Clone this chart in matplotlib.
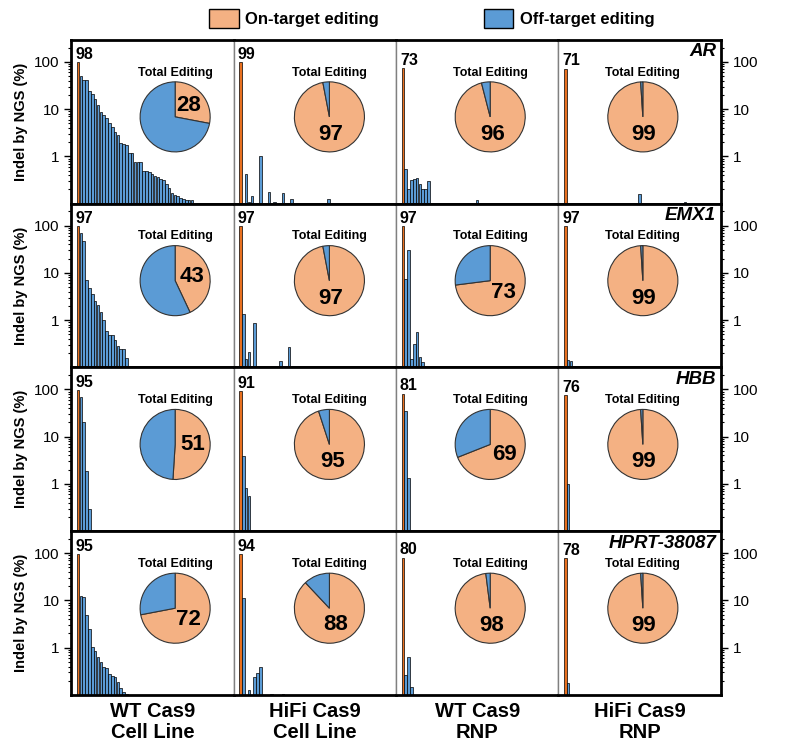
import numpy as np
import matplotlib
matplotlib.use('Agg')
from matplotlib import pyplot as plt
from matplotlib.patches import Patch
from matplotlib.ticker import FixedLocator, NullFormatter

plt.rcParams['font.family'] = ['Liberation Sans', 'DejaVu Sans']

genes = ['AR', 'EMX1', 'HBB', 'HPRT-38087']
conditions = ['WT Cas9\nCell Line', 'HiFi Cas9\nCell Line', 'WT Cas9\nRNP', 'HiFi Cas9\nRNP']

# on-target indel % (orange bar) per gene row / condition column
on_target = [[98, 99, 73, 71],
             [97, 97, 97, 97],
             [95, 91, 81, 76],
             [95, 94, 80, 78]]

# total editing share that is on-target (pie)
total_on = [[28, 97, 96, 99],
            [43, 97, 73, 99],
            [51, 95, 69, 99],
            [72, 88, 98, 99]]

# off-target indel % per site (site 1, 2, ...), 0 = not detected
ar_wt_cell = [50, 42, 42, 24, 21, 16, 12.4, 8.6, 7.5, 6.4, 5.0, 4.2, 3.3, 2.8, 1.9, 1.8,
              1.7, 1.2, 1.2, 0.76, 0.76, 0.76, 0.5, 0.48, 0.46, 0.42, 0.39, 0.36, 0.33,
              0.32, 0.26, 0.21, 0.17, 0.15, 0.146, 0.135, 0.125, 0.12, 0.12, 0.12]
ar_hifi_cell = [0, 0.43, 0.11, 0.146, 0, 0, 1.0, 0, 0, 0.18, 0, 0.11, 0, 0, 0.17, 0, 0,
                0.126, 0, 0, 0, 0, 0, 0, 0, 0, 0, 0, 0, 0, 0.126]
ar_wt_rnp = [0.53, 0.2, 0.32, 0.33, 0.35, 0.26, 0.2, 0.2, 0.3, 0, 0, 0, 0, 0, 0, 0, 0,
             0, 0, 0, 0, 0, 0, 0, 0, 0.12]
ar_hifi_rnp = [0, 0, 0, 0, 0, 0, 0, 0, 0, 0, 0, 0, 0, 0, 0, 0, 0, 0, 0, 0, 0, 0, 0, 0,
               0, 0.16, 0, 0, 0, 0, 0, 0, 0, 0, 0, 0, 0, 0, 0, 0, 0, 0.11]

emx1_wt_cell = [70, 46.6, 7.2, 4.7, 3.6, 2.6, 2.07, 1.49, 1.03, 0.58, 0.49, 0.49, 0.38,
                0.29, 0.25, 0.25, 0.16]
emx1_hifi_cell = [1.33, 0.15, 0.21, 0, 0.88, 0, 0, 0, 0, 0, 0, 0, 0, 0.137, 0, 0, 0.27]
emx1_wt_rnp = [7.5, 30.8, 0.15, 0.32, 0.55, 0.17, 0.13]
emx1_hifi_rnp = [0.147, 0.135]

hbb_wt_cell = [67.6, 20, 1.9, 0.29]
hbb_hifi_cell = [3.97, 0.81, 0.55]
hbb_wt_rnp = [35.5, 1.32]
hbb_hifi_rnp = [1.0]

hprt_wt_cell = [12.4, 12, 4.8, 2.5, 1.05, 0.85, 0.63, 0.5, 0.39, 0.37, 0.28, 0.25, 0.24,
                0.19, 0.14, 0.118, 0.105]
hprt_hifi_cell = [11.2, 0, 0.13, 0, 0.24, 0.29, 0.39, 0, 0, 0, 0.105, 0, 0, 0, 0.105]
hprt_wt_rnp = [0.27, 0.64, 0.15]
hprt_hifi_rnp = [0.18]

off_target = [[ar_wt_cell, ar_hifi_cell, ar_wt_rnp, ar_hifi_rnp],
              [emx1_wt_cell, emx1_hifi_cell, emx1_wt_rnp, emx1_hifi_rnp],
              [hbb_wt_cell, hbb_hifi_cell, hbb_wt_rnp, hbb_hifi_rnp],
              [hprt_wt_cell, hprt_hifi_cell, hprt_wt_rnp, hprt_hifi_rnp]]

ON_BAR = '#E8701F'
OFF_BAR = '#5B9BD5'
ON_PIE = '#F4B183'
OFF_PIE = '#5B9BD5'

pie_x = [0.64, 0.59, 0.58, 0.52]

fig, axes = plt.subplots(4, 4, figsize=(8, 7.53), dpi=100,
                         gridspec_kw=dict(wspace=0, hspace=0))
fig.subplots_adjust(left=0.089, right=0.901, top=0.947, bottom=0.077)

for r in range(4):
    for c in range(4):
        ax = axes[r, c]
        ax.set_yscale('log')
        ax.bar([0], [on_target[r][c]], width=0.9, color=ON_BAR, edgecolor='black', linewidth=0.5)
        vals = np.array(off_target[r][c], dtype=float)
        xs = np.arange(1, len(vals) + 1)
        keep = vals > 0
        ax.bar(xs[keep], vals[keep], width=0.9, color=OFF_BAR, edgecolor='black', linewidth=0.5)
        ax.set_ylim(0.1, 290)
        ax.set_xlim(-2.4, 54.6)
        ax.set_xticks([])
        ax.text(-1.0, on_target[r][c] * 1.02, str(on_target[r][c]), ha='left', va='bottom',
                fontsize=11.5, fontweight='bold')

        for side in ['top', 'bottom']:
            ax.spines[side].set_linewidth(2)
            ax.spines[side].set_color('black')
        for side in ['left', 'right']:
            ax.spines[side].set_linewidth(1)
            ax.spines[side].set_color('#808080')

        ax.yaxis.set_major_locator(FixedLocator([1, 10, 100]))
        ax.yaxis.set_minor_locator(FixedLocator(
            [k * 0.1 for k in range(2, 10)] + list(range(2, 10)) + [k * 10 for k in range(2, 10)] + [200]))
        ax.yaxis.set_minor_formatter(NullFormatter())
        ax.set_yticklabels(['1', '10', '100'])
        ax.tick_params(axis='y', which='major', length=5, width=1, labelsize=11)
        ax.tick_params(axis='y', which='minor', length=2.5, width=0.8)

        if c == 0:
            ax.spines['left'].set_linewidth(2)
            ax.spines['left'].set_color('black')
            ax.tick_params(axis='y', which='both', left=True, right=False, labelleft=True)
            ax.set_ylabel('Indel by NGS (%)', fontsize=10.5, fontweight='bold', labelpad=4)
        elif c == 3:
            ax.spines['right'].set_linewidth(2)
            ax.spines['right'].set_color('black')
            ax.yaxis.tick_right()
            ax.tick_params(axis='y', which='both', left=False, right=True, labelright=True, labelleft=False)
            ax.text(0.97, 0.98, genes[r], transform=ax.transAxes, ha='right', va='top',
                    fontsize=13.5, fontweight='bold', fontstyle='italic')
        else:
            ax.tick_params(axis='y', which='both', left=False, right=False, labelleft=False)

        if r == 3:
            ax.set_xlabel(conditions[c], fontsize=14.5, fontweight='bold', labelpad=5,
                          linespacing=1.15)

        # pie inset
        size = 0.44
        cy = 0.53
        pax = ax.inset_axes([pie_x[c] - size / 2, cy - size / 2, size, size])
        on = total_on[r][c]
        pax.pie([on, 100 - on], colors=[ON_PIE, OFF_PIE], startangle=90, counterclock=False,
                wedgeprops=dict(edgecolor='#333333', linewidth=0.8), radius=1)
        mid = np.deg2rad(90 - on * 3.6 / 2)
        pax.text(0.5 * np.cos(mid), 0.5 * np.sin(mid), str(on), ha='center', va='center',
                 fontsize=16, fontweight='bold')
        pax.set_xlim(-1.02, 1.02)
        pax.set_ylim(-1.02, 1.02)
        pax.set_aspect('equal')
        ax.text(pie_x[c], cy + size / 2 + 0.05, 'Total Editing', transform=ax.transAxes,
                ha='center', va='center', fontsize=9, fontweight='bold')

handles = [Patch(facecolor=ON_PIE, edgecolor='black', label='On-target editing'),
           Patch(facecolor=OFF_PIE, edgecolor='black', label='Off-target editing')]
fig.legend(handles=handles, loc='center', bbox_to_anchor=(0.54, 0.975), ncol=2, frameon=False,
           prop=dict(size=12, weight='bold'), handlelength=1.75, handleheight=1.35,
           columnspacing=6.3, handletextpad=0.4)

fig.savefig('out.png', dpi=100)
